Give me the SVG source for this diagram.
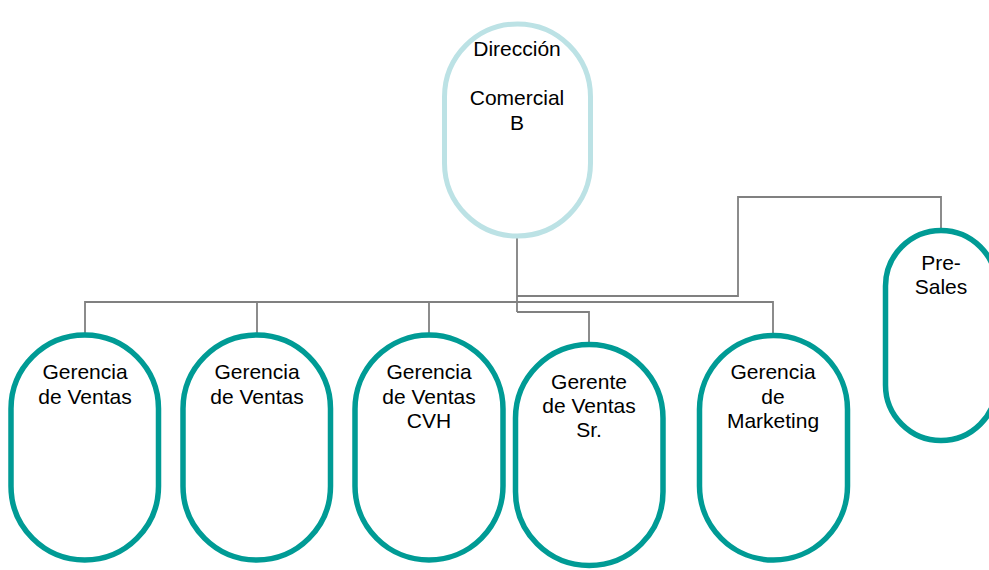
<svg xmlns="http://www.w3.org/2000/svg" width="989" height="570" viewBox="0 0 989 570">
  <style>
    .bg { fill: #ffffff; }
    .head { fill: #ffffff; stroke: #BCE2E5; stroke-width: 5; }
    .unit { fill: #ffffff; stroke: #009B95; stroke-width: 5.5; }
    .link { fill: none; stroke: #808080; stroke-width: 1.8; }
    text { font-family: "Liberation Sans", Arial, sans-serif; font-size: 21px; fill: #000000; text-anchor: middle; }
  </style>
  <rect class="bg" x="0" y="0" width="989" height="570"/>

  <!-- connectors -->
  <g id="connectors">
    <!-- main trunk and bus to the left units and Marketing -->
    <path class="link" d="M517,238 V312"/>
    <path class="link" d="M85,333 V302 H773 V333"/>
    <path class="link" d="M257,302 V333"/>
    <path class="link" d="M429,302 V333"/>
    <!-- to Gerente de Ventas Sr. -->
    <path class="link" d="M517,312 H589 V342"/>
    <!-- to Pre-Sales -->
    <path class="link" d="M517,296 H738 V197 H941 V228"/>
  </g>

  <g id="direccion-comercial">
    <rect class="head" x="444.5" y="24" width="146" height="212" rx="73" ry="73"/>
    <text x="517" y="56">Dirección</text>
    <text x="517" y="105">Comercial</text>
    <text x="517" y="130">B</text>
  </g>

  <g id="gerencia-ventas-1">
    <rect class="unit" x="11" y="335" width="147.5" height="225" rx="73.75" ry="73.75"/>
    <text x="85" y="379">Gerencia</text>
    <text x="85" y="404">de Ventas</text>
  </g>

  <g id="gerencia-ventas-2">
    <rect class="unit" x="183" y="335" width="147.5" height="225" rx="73.75" ry="73.75"/>
    <text x="257" y="379">Gerencia</text>
    <text x="257" y="404">de Ventas</text>
  </g>

  <g id="gerencia-ventas-cvh">
    <rect class="unit" x="355" y="335" width="148" height="225" rx="74" ry="74"/>
    <text x="429" y="379">Gerencia</text>
    <text x="429" y="404">de Ventas</text>
    <text x="429" y="428">CVH</text>
  </g>

  <g id="gerente-ventas-sr">
    <rect class="unit" x="515.5" y="344.5" width="147.5" height="221" rx="73.75" ry="73.75"/>
    <text x="589" y="389">Gerente</text>
    <text x="589" y="413">de Ventas</text>
    <text x="589" y="437">Sr.</text>
  </g>

  <g id="gerencia-marketing">
    <rect class="unit" x="699.5" y="335.5" width="148" height="224.5" rx="74" ry="74"/>
    <text x="773" y="379">Gerencia</text>
    <text x="773" y="404">de</text>
    <text x="773" y="428">Marketing</text>
  </g>

  <g id="pre-sales">
    <rect class="unit" x="885.5" y="230.5" width="111" height="210" rx="55.5" ry="55.5"/>
    <text x="941" y="270">Pre-</text>
    <text x="941" y="294">Sales</text>
  </g>
</svg>
